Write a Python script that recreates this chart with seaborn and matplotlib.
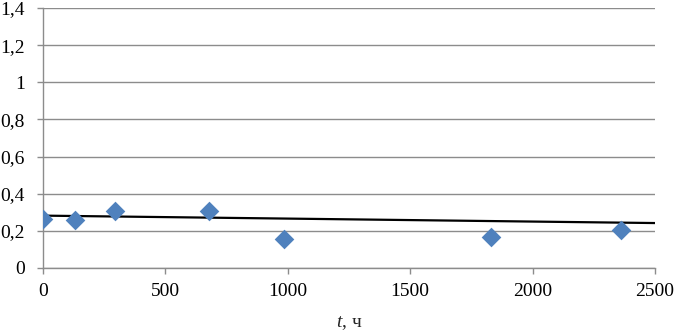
import matplotlib
matplotlib.use("Agg")
import matplotlib.pyplot as plt
import seaborn as sns
import pandas as pd
from matplotlib.ticker import FuncFormatter, MultipleLocator

t_hours = [0, 130, 295, 680, 985, 1830, 2360]
values = [0.265, 0.26, 0.307, 0.307, 0.155, 0.167, 0.205]
trend_t = [0, 2500]
trend_v = [0.282, 0.242]

sns.set_style("white")
plt.rcParams['font.family'] = 'serif'
plt.rcParams['font.serif'] = ['Liberation Serif', 'DejaVu Serif']
plt.rcParams['mathtext.fontset'] = 'custom'
plt.rcParams['mathtext.it'] = 'Liberation Serif:italic'
plt.rcParams['mathtext.rm'] = 'Liberation Serif'

df = pd.DataFrame({"t": t_hours, "v": values})
tr = pd.DataFrame({"t": trend_t, "v": trend_v})

fig = plt.figure(figsize=(6.75, 3.33), dpi=100)
ax = fig.add_axes([0.0637, 0.1952, 0.9067, 0.7808])

sns.lineplot(data=tr, x="t", y="v", ax=ax, color="black", linewidth=1.6, zorder=2)
sns.scatterplot(data=df, x="t", y="v", ax=ax, marker="D", s=100, color="#4F81BD",
                edgecolor="#4F81BD", linewidth=0, zorder=3)

ax.set_xlim(0, 2500)
ax.set_ylim(0, 1.4)
ax.xaxis.set_major_locator(MultipleLocator(500))
ax.yaxis.set_major_locator(MultipleLocator(0.2))
ax.yaxis.set_major_formatter(FuncFormatter(lambda v, p: ("%g" % round(v, 1)).replace(".", ",")))
ax.grid(axis="y", color="#8c8c8c", linewidth=1)
ax.set_axisbelow(True)
for s in ["top", "right"]:
    ax.spines[s].set_visible(False)
for s in ["left", "bottom"]:
    ax.spines[s].set_color("#8c8c8c")
    ax.spines[s].set_linewidth(1)
ax.tick_params(axis="both", direction="out", length=4, width=1, color="#8c8c8c",
               labelsize=14, labelcolor="black", left=True, bottom=True)
ax.tick_params(axis="y", pad=9)
ax.tick_params(axis="x", pad=7)
ax.set_ylabel("")
ax.set_xlabel(r"$\mathit{t}$, ч", fontsize=14, labelpad=10)

fig.savefig("out.png", dpi=100)
